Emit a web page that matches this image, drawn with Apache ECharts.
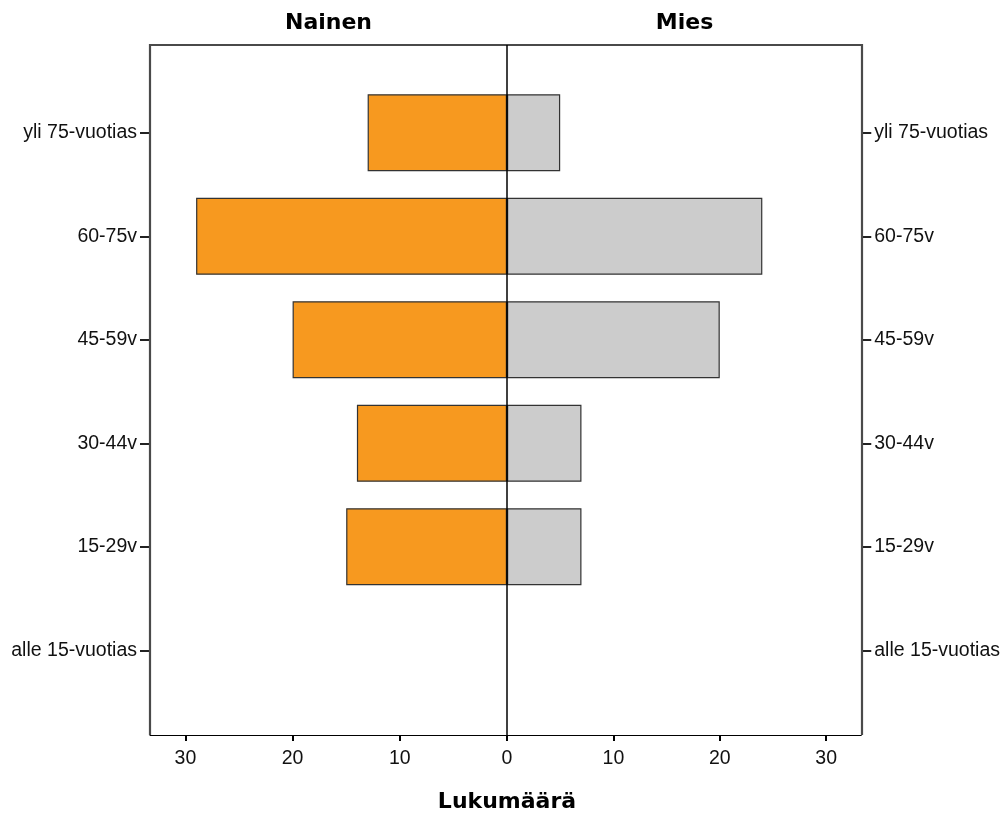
<!DOCTYPE html>
<html><head><meta charset="utf-8">
<script src="https://cdn.jsdelivr.net/npm/echarts@6/dist/echarts.min.js"></script>
<style>html,body{margin:0;padding:0;background:#fff}#c{width:1003px;height:814px}</style>
</head><body><div id="c"></div>
<script>
const categories = ['alle 15-vuotias', '15-29v', '30-44v', '45-59v', '60-75v', 'yli 75-vuotias'];
const nainen = [0, 15, 14, 20, 29, 13];
const mies = [0, 7, 7, 20, 24, 5];
const tickValues = [0, 10, 20, 30];
const panelTitles = ['Nainen', 'Mies'];
const axisTitle = 'Lukumäärä';

const chart = echarts.init(document.getElementById('c'));
const font = 'Liberation Sans, Arial, sans-serif';
const titleFont = 'bold 22px "DejaVu Sans", Verdana, sans-serif';
const L = 150, R = 862, C = 507, T = 45, B = 735;
const xMax = 33.3;
const catTop = 81, catBottom = 702;

function barData(arr) {
  return arr.map(v => v === 0 ? { value: v, itemStyle: { borderWidth: 0 } } : v);
}

const yAxisCommon = {
  type: 'category', data: categories,
  axisLine: { show: true, onZero: false, lineStyle: { color: 'rgba(0,0,0,0)' } },
  axisTick: { show: true, alignWithLabel: true, length: 10, lineStyle: { color: '#222', width: 2 } },
  axisLabel: { color: '#111', fontSize: 19.5, fontFamily: font, margin: 13 },
  splitLine: { show: false }
};
const xAxisCommon = {
  type: 'value', min: 0, max: xMax, offset: B - catBottom,
  axisLine: { show: true, lineStyle: { color: '#000', width: 1 } },
  axisTick: { show: true, length: 6, customValues: tickValues, lineStyle: { color: '#000', width: 2 } },
  splitLine: { show: false }
};

chart.setOption({
  animation: false,
  backgroundColor: '#fff',
  grid: [
    { left: L, right: 1003 - C, top: catTop, bottom: 814 - catBottom },
    { left: C, right: 1003 - R, top: catTop, bottom: 814 - catBottom }
  ],
  xAxis: [
    Object.assign({}, xAxisCommon, { gridIndex: 0, inverse: true,
      axisLabel: { customValues: tickValues, color: '#111', fontSize: 19.5, fontFamily: font, margin: 14 } }),
    Object.assign({}, xAxisCommon, { gridIndex: 1,
      axisLabel: { customValues: tickValues.slice(1), color: '#111', fontSize: 19.5, fontFamily: font, margin: 14 } })
  ],
  yAxis: [
    Object.assign({}, yAxisCommon, { gridIndex: 0, position: 'left' }),
    Object.assign({}, yAxisCommon, { gridIndex: 1, position: 'right' })
  ],
  series: [
    { type: 'bar', name: panelTitles[0], xAxisIndex: 0, yAxisIndex: 0, data: barData(nainen), barWidth: 77,
      itemStyle: { color: '#F7991F', borderColor: '#333', borderWidth: 1.2 } },
    { type: 'bar', name: panelTitles[1], xAxisIndex: 1, yAxisIndex: 1, data: barData(mies), barWidth: 77,
      itemStyle: { color: '#CCCCCC', borderColor: '#333', borderWidth: 1.2 } }
  ],
  graphic: [
    { type: 'polyline', shape: { points: [[L, B], [L, T], [R, T], [R, B]] }, style: { fill: null, stroke: '#4a4a4a', lineWidth: 2.2 }, z: 10 },
    { type: 'line', shape: { x1: C, y1: T, x2: C, y2: B }, style: { stroke: '#000', lineWidth: 1.5 }, z: 10 },
    { type: 'text', x: (L + C) / 2, y: 23, style: { text: panelTitles[0], font: titleFont, fill: '#000', textAlign: 'center', textVerticalAlign: 'middle' } },
    { type: 'text', x: (C + R) / 2, y: 23, style: { text: panelTitles[1], font: titleFont, fill: '#000', textAlign: 'center', textVerticalAlign: 'middle' } },
    { type: 'text', x: C, y: 802, style: { text: axisTitle, font: titleFont, fill: '#000', textAlign: 'center', textVerticalAlign: 'middle' } }
  ]
});
</script></body></html>
